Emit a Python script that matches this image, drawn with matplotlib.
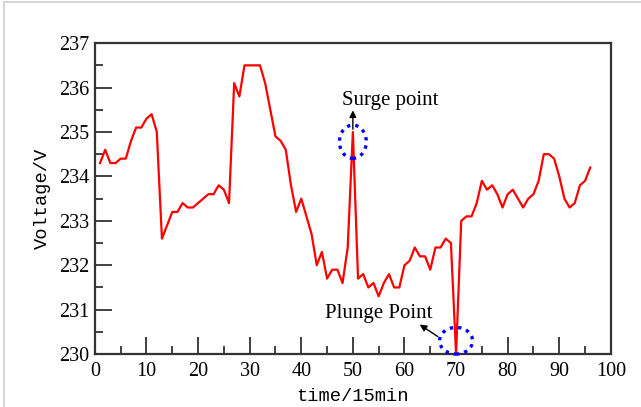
import matplotlib

matplotlib.use("Agg")
import matplotlib.pyplot as plt
from matplotlib.lines import Line2D
from matplotlib.patches import Ellipse
from matplotlib.ticker import MultipleLocator

# time index (15-min steps) and measured voltage
time_idx = list(range(1, 97))
voltage = [
    234.3, 234.6, 234.3, 234.3, 234.4, 234.4, 234.8, 235.1, 235.1, 235.3,
    235.4, 235.0, 232.6, 232.9, 233.2, 233.2, 233.4, 233.3, 233.3, 233.4,
    233.5, 233.6, 233.6, 233.8, 233.7, 233.4, 236.1, 235.8, 236.5, 236.5,
    236.5, 236.5, 236.1, 235.5, 234.9, 234.8, 234.6, 233.8, 233.2, 233.5,
    233.1, 232.7, 232.0, 232.3, 231.7, 231.9, 231.9, 231.6, 232.4, 235.0,
    231.7, 231.8, 231.5, 231.6, 231.3, 231.6, 231.8, 231.5, 231.5, 232.0,
    232.1, 232.4, 232.2, 232.2, 231.9, 232.4, 232.4, 232.6, 232.5, 230.0,
    233.0, 233.1, 233.1, 233.4, 233.9, 233.7, 233.8, 233.6, 233.3, 233.6,
    233.7, 233.5, 233.3, 233.5, 233.6, 233.9, 234.5, 234.5, 234.4, 234.0,
    233.5, 233.3, 233.4, 233.8, 233.9, 234.2,
]
surge_t, surge_v = 50, 235.0
plunge_t, plunge_v = 70, 230.0

SERIF = ["Liberation Serif", "DejaVu Serif"]
MONO = ["Liberation Mono", "DejaVu Sans Mono"]
FRAME = "#333333"

fig = plt.figure(figsize=(6.41, 4.07), dpi=100)
ax = fig.add_axes([0.148, 0.130, 0.805, 0.764])

ax.plot(time_idx, voltage, color="#ff0000", linewidth=1.6, zorder=3)

# highlight the two anomalies
ax.add_patch(Ellipse((surge_t, 234.78), 5.2, 0.75, fill=False, edgecolor="#0000ff",
                     linestyle=(0, (1, 1.5)), linewidth=2.4, zorder=4))
ax.add_patch(Ellipse((plunge_t, 230.3), 6.4, 0.6, fill=False, edgecolor="#0000ff",
                     linestyle=(0, (1, 1.5)), linewidth=2.4, zorder=4, clip_on=False))

ax.annotate("", xy=(surge_t, 235.55), xytext=(surge_t, surge_v),
            arrowprops=dict(arrowstyle="-|>", color="black", lw=1.0, mutation_scale=10))
ax.text(57.2, 235.72, "Surge point", family=SERIF, fontsize=15, ha="center", va="center")

ax.annotate("", xy=(62.5, 230.7), xytext=(66.9, 230.36),
            arrowprops=dict(arrowstyle="-|>", color="black", lw=1.0, mutation_scale=10))
ax.text(55, 230.92, "Plunge Point", family=SERIF, fontsize=15, ha="center", va="center")

ax.set_xlim(0, 100)
ax.set_ylim(230, 237)
ax.xaxis.set_major_locator(MultipleLocator(10))
ax.xaxis.set_minor_locator(MultipleLocator(5))
ax.yaxis.set_major_locator(MultipleLocator(1))
ax.yaxis.set_minor_locator(MultipleLocator(0.5))
ax.tick_params(which="both", direction="in", top=False, right=False, color=FRAME,
               width=1.3, labelsize=14.5)
ax.tick_params(axis="x", pad=6)
ax.tick_params(axis="y", pad=4)
ax.tick_params(which="major", length=12)
ax.tick_params(which="minor", length=6)
for lab in ax.get_xticklabels() + ax.get_yticklabels():
    lab.set_family(SERIF)
for spine in ax.spines.values():
    spine.set_color(FRAME)
    spine.set_linewidth(1.6)

ax.set_xlabel("time/15min", family=MONO, fontsize=13.5, labelpad=5)
ax.set_ylabel("Voltage/V", family=MONO, fontsize=13.5, labelpad=6)

# faint page border seen at top and left of the source image
fig.add_artist(Line2D([0.0065, 0.0065], [0, 0.995], transform=fig.transFigure, color="#d0d0d0", lw=1.2))
fig.add_artist(Line2D([0.0065, 1], [0.995, 0.995], transform=fig.transFigure, color="#d0d0d0", lw=1.2))

fig.savefig("out.png", dpi=100)
